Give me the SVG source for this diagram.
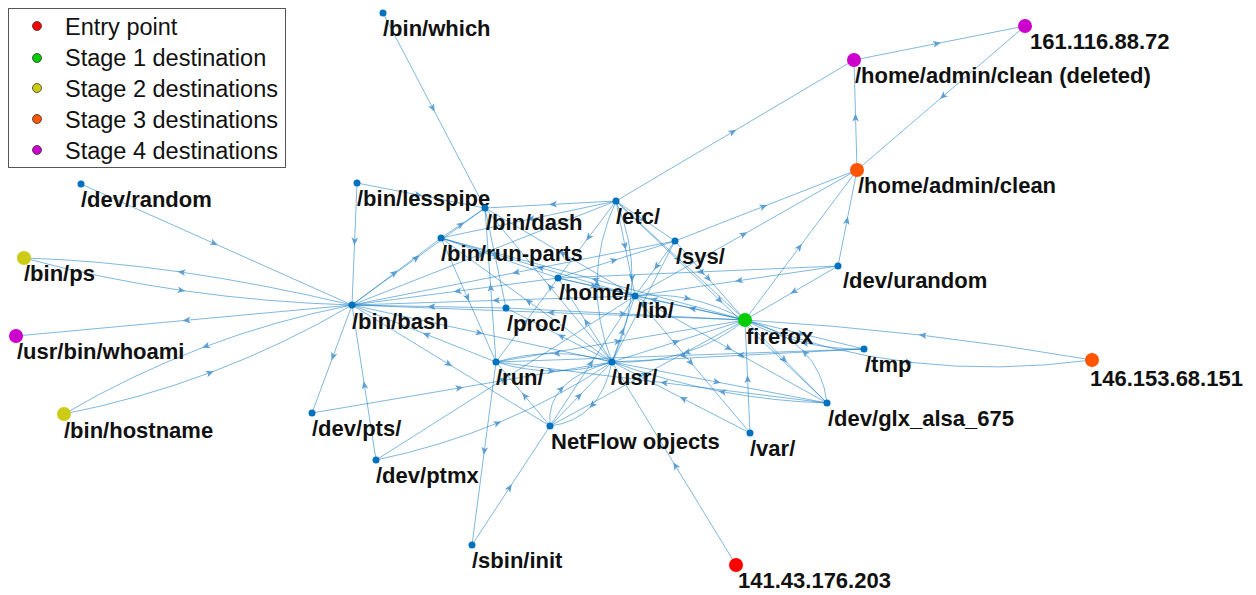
<svg xmlns="http://www.w3.org/2000/svg" width="1256" height="595" viewBox="0 0 1256 595">
  <defs>
    <!-- arrowhead placed at the middle vertex of every edge -->
    <marker id="arr" viewBox="-9 -5 11 10" markerWidth="11" markerHeight="10" refX="0" refY="0" orient="auto" markerUnits="userSpaceOnUse">
      <path d="M1.5,0 L-6.5,-3.3 L-4.5,0 L-6.5,3.3 Z" fill="#5d9fd3"/>
    </marker>
    <style>
      .e { fill: none; stroke: #0072BD; stroke-opacity: 0.5; stroke-width: 1; marker-mid: url(#arr); }
      .n { fill: #0072BD; }
      .lbl { font-family: "Liberation Sans", Arial, sans-serif; font-weight: bold; font-size: 22px; fill: #111; }
      .leg { font-family: "Liberation Sans", Arial, sans-serif; font-size: 23.5px; fill: #111; }
      .lm { stroke: #333; stroke-width: 0.8; }
    </style>
  </defs>
  <rect width="1256" height="595" fill="#fff"/>

  <!-- edges -->
  <g id="edges">
    <path class="e" d="M81,184 L216.5,244.5 L352,305"/>
    <path class="e" d="M352,305 Q261,283.5 179,271.75 Q97,260 24,258"/>
    <path class="e" d="M24,258 Q102,279 184,290.75 Q266,302.5 352,305"/>
    <path class="e" d="M352,305 L184,320.5 L16,336"/>
    <path class="e" d="M352,305 Q275.5,320 203.5,347.25 Q131.5,374.5 64,414"/>
    <path class="e" d="M64,414 Q140.5,399 212.5,371.75 Q284.5,344.5 352,305"/>
    <path class="e" d="M357,183 L354.5,244 L352,305"/>
    <path class="e" d="M383,13 L434,110.5 L485,208"/>
    <path class="e" d="M357,183 L421,195.5 L485,208"/>
    <path class="e" d="M616,201 L550.5,204.5 L485,208"/>
    <path class="e" d="M616,201 L735,130.5 L854,60"/>
    <path class="e" d="M857,170 L855.5,115 L854,60"/>
    <path class="e" d="M854,60 L939.5,43 L1025,26"/>
    <path class="e" d="M1025,26 L941,98 L857,170"/>
    <path class="e" d="M352,305 L418.5,256.5 L485,208"/>
    <path class="e" d="M352,305 L396.5,271.5 L441,238"/>
    <path class="e" d="M441,238 L463,223 L485,208"/>
    <path class="e" d="M441,238 L468.5,300 L496,362"/>
    <path class="e" d="M506,308 L429,306.5 L352,305"/>
    <path class="e" d="M352,305 L482,333.5 L612,362"/>
    <path class="e" d="M635,296 L493.5,300.5 L352,305"/>
    <path class="e" d="M558,278 L455,291.5 L352,305"/>
    <path class="e" d="M352,305 L451,365.5 L550,426"/>
    <path class="e" d="M496,362 L424,333.5 L352,305"/>
    <path class="e" d="M352,305 L332,359 L312,413"/>
    <path class="e" d="M376,460 L364,382.5 L352,305"/>
    <path class="e" d="M312,413 L462,387.5 L612,362"/>
    <path class="e" d="M376,460 Q441,446.5 500,422 Q559,397.5 612,362"/>
    <path class="e" d="M376,460 L505.5,378 L635,296"/>
    <path class="e" d="M496,362 L484,453.5 L472,545"/>
    <path class="e" d="M472,545 L511,485.5 L550,426"/>
    <path class="e" d="M736,565 L674,463.5 L612,362"/>
    <path class="e" d="M550,426 Q547.5,403 563,387 Q578.5,371 612,362"/>
    <path class="e" d="M612,362 Q606,391 590.5,407 Q575,423 550,426"/>
    <path class="e" d="M550,426 L581,394 L612,362"/>
    <path class="e" d="M550,426 L592.5,361 L635,296"/>
    <path class="e" d="M550,426 L647.5,373 L745,320"/>
    <path class="e" d="M550,426 L523,394 L496,362"/>
    <path class="e" d="M612,362 Q583,353.5 554,353.5 Q525,353.5 496,362"/>
    <path class="e" d="M496,362 Q525,371 554,371 Q583,371 612,362"/>
    <path class="e" d="M496,362 L527,320 L558,278"/>
    <path class="e" d="M496,362 L620.5,341 L745,320"/>
    <path class="e" d="M827,403 L661.5,382.5 L496,362"/>
    <path class="e" d="M864,349 L680,355.5 L496,362"/>
    <path class="e" d="M612,362 Q596,321 597,280.75 Q598,240.5 616,201"/>
    <path class="e" d="M616,201 Q633,240.5 632,280.75 Q631,321 612,362"/>
    <path class="e" d="M612,362 L643.5,301.5 L675,241"/>
    <path class="e" d="M612,362 L623.5,329 L635,296"/>
    <path class="e" d="M612,362 L585,320 L558,278"/>
    <path class="e" d="M612,362 L548.5,285 L485,208"/>
    <path class="e" d="M612,362 L526.5,300 L441,238"/>
    <path class="e" d="M612,362 L559,335 L506,308"/>
    <path class="e" d="M612,362 L678.5,341 L745,320"/>
    <path class="e" d="M745,320 Q717.5,342.5 684.25,353 Q651,363.5 612,362"/>
    <path class="e" d="M864,349 L738,355.5 L612,362"/>
    <path class="e" d="M827,403 Q773.5,401.5 719.75,391.25 Q666,381 612,362"/>
    <path class="e" d="M612,362 L719.5,382.5 L827,403"/>
    <path class="e" d="M750,433 L681,397.5 L612,362"/>
    <path class="e" d="M675,241 L766,205.5 L857,170"/>
    <path class="e" d="M745,320 L801,245 L857,170"/>
    <path class="e" d="M635,296 L746,233 L857,170"/>
    <path class="e" d="M838,266 L847.5,218 L857,170"/>
    <path class="e" d="M838,266 L736.5,281 L635,296"/>
    <path class="e" d="M838,266 L791.5,293 L745,320"/>
    <path class="e" d="M838,266 L698,272 L558,278"/>
    <path class="e" d="M1092,360 Q1006,345 920.25,335 Q832.5,325 745,320"/>
    <path class="e" d="M745,320 Q825,352.5 911.75,362.5 Q998.5,372.5 1092,360"/>
    <path class="e" d="M745,320 L804.5,334.5 L864,349"/>
    <path class="e" d="M864,349 Q832,349.5 802.25,342.25 Q772.5,335 745,320"/>
    <path class="e" d="M750,433 L747.5,376.5 L745,320"/>
    <path class="e" d="M827,403 Q823.5,371.5 803,350.75 Q782.5,330 745,320"/>
    <path class="e" d="M745,320 L786,361.5 L827,403"/>
    <path class="e" d="M616,201 L680.5,260.5 L745,320"/>
    <path class="e" d="M675,241 L710,280.5 L745,320"/>
    <path class="e" d="M745,320 L690,308 L635,296"/>
    <path class="e" d="M745,320 L651.5,299 L558,278"/>
    <path class="e" d="M745,320 L593,279 L441,238"/>
    <path class="e" d="M745,320 L548.5,312.5 L352,305"/>
    <path class="e" d="M635,296 Q662.5,293 690,299 Q717.5,305 745,320"/>
    <path class="e" d="M635,296 L538,267 L441,238"/>
    <path class="e" d="M635,296 L560,252 L485,208"/>
    <path class="e" d="M616,201 L587,239.5 L558,278"/>
    <path class="e" d="M616,201 L625.5,248.5 L635,296"/>
    <path class="e" d="M675,241 L655,268.5 L635,296"/>
    <path class="e" d="M635,296 L692.5,364.5 L750,433"/>
    <path class="e" d="M635,296 L731,349.5 L827,403"/>
    <path class="e" d="M616,201 L721.5,302 L827,403"/>
    <path class="e" d="M616,201 L645.5,221 L675,241"/>
    <path class="e" d="M616,201 L528.5,219.5 L441,238"/>
    <path class="e" d="M352,305 L484,253 L616,201"/>
    <path class="e" d="M675,241 L513.5,273 L352,305"/>
    <path class="e" d="M441,238 L499.5,258 L558,278"/>
    <path class="e" d="M485,208 L495.5,258 L506,308"/>
    <path class="e" d="M496,362 L490.5,285 L485,208"/>
    <path class="e" d="M506,308 L625.5,314 L745,320"/>
    <path class="e" d="M558,278 L616.5,259.5 L675,241"/>
    <path class="e" d="M558,278 L596.5,287 L635,296"/>
  </g>

  <!-- nodes -->
  <g id="n-bin-which"><circle class="n" cx="383" cy="13" r="3.5"/><text class="lbl" x="383" y="36">/bin/which</text></g>
  <g id="n-dev-random"><circle class="n" cx="81" cy="184" r="3.5"/><text class="lbl" x="81" y="207">/dev/random</text></g>
  <g id="n-bin-lesspipe"><circle class="n" cx="357" cy="183" r="3.5"/><text class="lbl" x="357" y="206">/bin/lesspipe</text></g>
  <g id="n-bin-dash"><circle class="n" cx="485" cy="208" r="3.5"/><text class="lbl" x="486" y="230">/bin/dash</text></g>
  <g id="n-etc"><circle class="n" cx="616" cy="201" r="3.5"/><text class="lbl" x="616" y="224">/etc/</text></g>
  <g id="n-bin-run-parts"><circle class="n" cx="441" cy="238" r="3.5"/><text class="lbl" x="441" y="261">/bin/run-parts</text></g>
  <g id="n-sys"><circle class="n" cx="675" cy="241" r="3.5"/><text class="lbl" x="676" y="264">/sys/</text></g>
  <g id="n-home"><circle class="n" cx="558" cy="278" r="3.5"/><text class="lbl" x="559" y="300">/home/</text></g>
  <g id="n-lib"><circle class="n" cx="635" cy="296" r="3.5"/><text class="lbl" x="636" y="318">/lib/</text></g>
  <g id="n-dev-urandom"><circle class="n" cx="838" cy="266" r="3.5"/><text class="lbl" x="843" y="288">/dev/urandom</text></g>
  <g id="n-proc"><circle class="n" cx="506" cy="308" r="3.5"/><text class="lbl" x="507" y="331">/proc/</text></g>
  <g id="n-bin-bash"><circle class="n" cx="352" cy="305" r="3.5"/><text class="lbl" x="352" y="329">/bin/bash</text></g>
  <g id="n-tmp"><circle class="n" cx="864" cy="349" r="3.5"/><text class="lbl" x="865" y="372">/tmp</text></g>
  <g id="n-run"><circle class="n" cx="496" cy="362" r="3.5"/><text class="lbl" x="496" y="385">/run/</text></g>
  <g id="n-usr"><circle class="n" cx="612" cy="362" r="3.5"/><text class="lbl" x="611" y="385">/usr/</text></g>
  <g id="n-netflow"><circle class="n" cx="550" cy="426" r="3.5"/><text class="lbl" x="551" y="449">NetFlow objects</text></g>
  <g id="n-var"><circle class="n" cx="750" cy="433" r="3.5"/><text class="lbl" x="750" y="456">/var/</text></g>
  <g id="n-dev-glx"><circle class="n" cx="827" cy="403" r="3.5"/><text class="lbl" x="828" y="426">/dev/glx_alsa_675</text></g>
  <g id="n-dev-pts"><circle class="n" cx="312" cy="413" r="3.5"/><text class="lbl" x="312" y="436">/dev/pts/</text></g>
  <g id="n-dev-ptmx"><circle class="n" cx="376" cy="460" r="3.5"/><text class="lbl" x="376" y="483">/dev/ptmx</text></g>
  <g id="n-sbin-init"><circle class="n" cx="472" cy="545" r="3.5"/><text class="lbl" x="472" y="568">/sbin/init</text></g>
  <g id="n-bin-ps"><circle cx="24" cy="258" r="7" fill="#cccc14"/><text class="lbl" x="24" y="281">/bin/ps</text></g>
  <g id="n-whoami"><circle cx="16" cy="336" r="7" fill="#cc00cc"/><text class="lbl" x="17" y="359">/usr/bin/whoami</text></g>
  <g id="n-bin-hostname"><circle cx="64" cy="414" r="7" fill="#cccc14"/><text class="lbl" x="64" y="438">/bin/hostname</text></g>
  <g id="n-clean-deleted"><circle cx="854" cy="60" r="7" fill="#cc00cc"/><text class="lbl" x="855" y="83">/home/admin/clean (deleted)</text></g>
  <g id="n-ip-161"><circle cx="1025" cy="26" r="7" fill="#cc00cc"/><text class="lbl" x="1030" y="49">161.116.88.72</text></g>
  <g id="n-clean"><circle cx="857" cy="170" r="7" fill="#ff5500"/><text class="lbl" x="858" y="193">/home/admin/clean</text></g>
  <g id="n-firefox"><circle cx="745" cy="320" r="7" fill="#00cc00"/><text class="lbl" x="746" y="344">firefox</text></g>
  <g id="n-ip-146"><circle cx="1092" cy="360" r="7" fill="#ff5500"/><text class="lbl" x="1090" y="386">146.153.68.151</text></g>
  <g id="n-ip-141"><circle cx="736" cy="565" r="7" fill="#ff0000"/><text class="lbl" x="738" y="588">141.43.176.203</text></g>

  <!-- legend -->
  <g id="legend">
    <rect x="8.5" y="8.5" width="277" height="159" fill="#fff" stroke="#555" stroke-width="1"/>
    <circle class="lm" cx="37" cy="26" r="4.5" fill="#ff0000"/>
    <text class="leg" x="65" y="35">Entry point</text>
    <circle class="lm" cx="37" cy="58" r="4.5" fill="#00cc00"/>
    <text class="leg" x="65" y="66">Stage 1 destination</text>
    <circle class="lm" cx="37" cy="88" r="4.5" fill="#cccc14"/>
    <text class="leg" x="65" y="97">Stage 2 destinations</text>
    <circle class="lm" cx="37" cy="119" r="4.5" fill="#ff5500"/>
    <text class="leg" x="65" y="128">Stage 3 destinations</text>
    <circle class="lm" cx="37" cy="150" r="4.5" fill="#cc00cc"/>
    <text class="leg" x="65" y="159">Stage 4 destinations</text>
  </g>
</svg>
